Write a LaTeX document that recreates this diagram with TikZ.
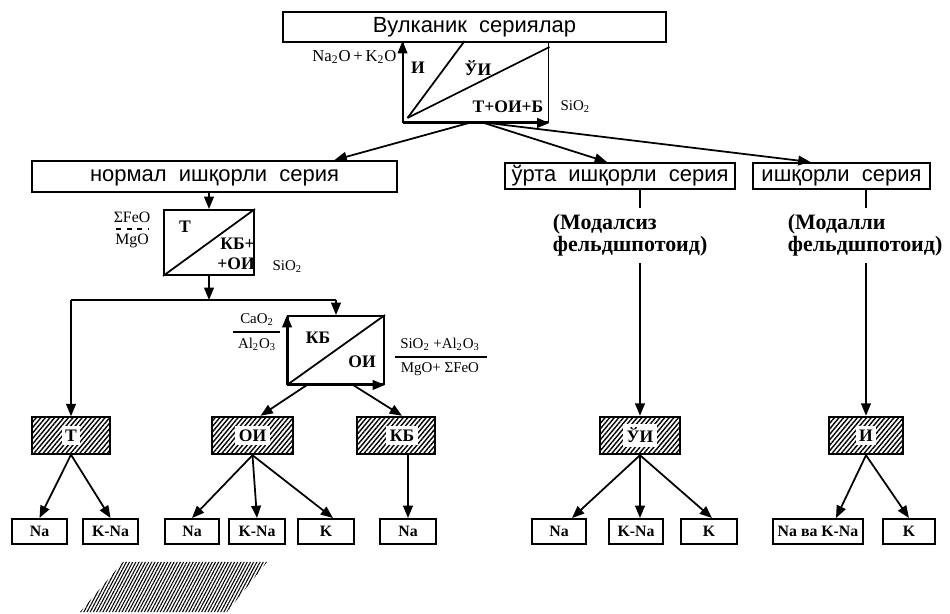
\documentclass[tikz,border=0pt]{standalone}
\usepackage{fontspec}
\setmainfont{Liberation Serif}
\newfontfamily\sansfnt{Liberation Sans}
\usetikzlibrary{arrows.meta,patterns,patterns.meta}

\begin{document}
\begin{tikzpicture}[x=0.02cm, y=-0.02cm, line width=1pt,
  box/.style={draw, line width=1.1pt, inner sep=0pt},
  sbox/.style={box, text height=0.72em, text depth=0.12em, font=\sansfnt\fontsize{12.5}{14}\selectfont},
  leaf/.style={box, minimum height=0.5cm, font=\bfseries\fontsize{9}{10}\selectfont},
  hatch/.style={draw, line width=1.4pt, inner sep=0pt, minimum height=0.74cm,
    pattern={Lines[angle=50,distance=2pt,line width=0.8pt]}},
  hlbl/.style={fill=white, inner sep=2pt, font=\bfseries\fontsize{10}{12}\selectfont},
  lbl/.style={inner sep=1pt, font=\fontsize{8.5}{10}\selectfont},
  blbl/.style={inner sep=1pt, font=\bfseries\fontsize{10}{11}\selectfont},
  arr/.style={-{Triangle[length=7pt,width=5.5pt]}, line width=1pt}]
\useasboundingbox (0,0) rectangle (950,614);

% top of the scheme
\node[sbox, minimum width=7.66cm, minimum height=0.6cm] (vulk) at (474.5,27) {Вулканик\ \ сериялар};
\node[box, minimum width=2.9cm, minimum height=1.6cm] (mix) at (476,82) {};
\draw ([shift={(5,-5)}]mix.south west) -- ([shift={(62,0)}]mix.north west);
\draw ([shift={(5,-5)}]mix.south west) -- ([shift={(0,6)}]mix.north east);
\draw[arr] (mix.south west) -- (mix.north west);
\draw[arr] (mix.south west) -- (mix.south east);
\node[blbl] (mI) at (418,68) {И};
\node[blbl] (mUI) at (478,68) {ЎИ};
\node[blbl] (mT) at (508,107) {Т+ОИ+Б};
\node[lbl, anchor=west] (mSi) at (558,107) {SiO\textsubscript{2}};
\node[lbl, anchor=east, font=\fontsize{9.5}{11}\selectfont] (mNa) at (399,57) {Na\textsubscript{2}O\,+\,K\textsubscript{2}O};

% series
\node[sbox, minimum width=7.3cm, minimum height=0.62cm] (norm) at (214.5,176.5) {нормал\ \ ишқорли\ \ серия};
\node[sbox, minimum width=4.6cm, minimum height=0.52cm] (mid) at (620,176) {ўрта\ \ ишқорли\ \ серия};
\node[sbox, minimum width=3.54cm, minimum height=0.52cm] (alk) at (841.5,176) {ишқорли\ \ серия};
\draw[arr] ([shift={(-7,0)}]mix.south) -- ([shift={(120,0)}]norm.north);
\draw[arr] ([shift={(8,0)}]mix.south) -- ([shift={(-13,0)}]mid.north);
\draw[arr] ([shift={(12,0)}]mix.south) -- ([shift={(-31,0)}]alk.north);

% normal alkaline branch
\node[box, minimum width=1.8cm, minimum height=1.3cm] (b2) at (209,242.5) {};
\draw (b2.south west) -- (b2.north east);
\draw[arr] (norm.south -| b2.north) -- (b2.north);
\node[blbl] (b2T) at (185,227) {Т};
\node[blbl, align=right] (b2KB) at (236,254) {КБ+\\+ОИ};
\node[lbl, align=center, font=\fontsize{9}{10}\selectfont] (fe) at (132,230) {ΣFeO\\[2pt]MgO};
\draw[dashed, line width=0.6pt] ([shift={(-16,-1)}]fe.center) -- ([shift={(16,-1)}]fe.center);
\node[lbl, anchor=west] (b2Si) at (270,267) {SiO\textsubscript{2}};

\coordinate (jn) at (209,300);
\coordinate (jl) at (71,300);
\coordinate (jr) at (336,300);
\draw[arr] (b2.south) -- (jn);
\draw (jl) -- (jr);

\node[box, minimum width=1.92cm, minimum height=1.36cm] (b3) at (336,350) {};
\draw (b3.south west) -- (b3.north east);
\draw[arr] (jr) -- (b3.north);
\draw[arr] (b3.south west) -- (b3.north west);
\draw[arr] (b3.south west) -- (b3.south east);
\node[blbl] (b3KB) at (318,338) {КБ};
\node[blbl] (b3OI) at (362,362) {ОИ};
\node[lbl, align=center] (cao) at (257,332) {CaO\textsubscript{2}\\[4pt]Al\textsubscript{2}O\textsubscript{3}};
\draw[line width=0.8pt] (233,332) -- (280,332);
\node[lbl, align=center] (sial) at (440,357) {SiO\textsubscript{2} +Al\textsubscript{2}O\textsubscript{3}\\[4pt]MgO+ ΣFeO};
\draw[line width=0.8pt] (395,357) -- (487,357);

% middle and alkaline branches
\node[anchor=north west, align=left, inner sep=0pt, font=\bfseries\fontsize{12.5}{13}\selectfont] (modA) at (552,213) {(Модалсиз\\фельдшпотоид)};
\node[anchor=north west, align=left, inner sep=0pt, font=\bfseries\fontsize{12.5}{13}\selectfont] (modB) at (787,213) {(Модалли\\фельдшпотоид)};

% hatched boxes
\node[hatch, minimum width=1.56cm, label={[hlbl]center:Т}] (hT) at (71,435.5) {};
\node[hatch, minimum width=1.62cm, label={[hlbl]center:ОИ}] (hOI) at (252.5,435.5) {};
\node[hatch, minimum width=1.56cm, label={[hlbl, xshift=0.12cm]center:КБ}] (hKB) at (396,435.5) {};
\node[hatch, minimum width=1.6cm, label={[hlbl]center:ЎИ}] (hUI) at (640,435.5) {};
\node[hatch, minimum width=1.48cm, label={[hlbl]center:И}] (hI) at (866,435.5) {};

\draw[arr] (jl) -- (hT.north);
\draw[arr] ([shift={(-29,0)}]b3.south) -- ([shift={(8,0)}]hOI.north);
\draw[arr] ([shift={(17,0)}]b3.south) -- ([shift={(6,0)}]hKB.north);
\draw (hUI.north |- mid.south) -- ([yshift=3pt]hUI.north |- modA.north);
\draw[arr] ([yshift=-3pt]hUI.north |- modA.south) -- (hUI.north);
\draw (hI.north |- alk.south) -- ([yshift=3pt]hI.north |- modB.north);
\draw[arr] ([yshift=-3pt]hI.north |- modB.south) -- (hI.north);

% leaves
\foreach \n/\x/\w/\t in {l1/39.5/1.1/Na, l2/110.5/1.1/K-Na, l3/192/1.08/Na,
  l4/257/1.12/K-Na, l5/326/1.12/K, l6/408/1.12/Na, l7/559/1.08/Na,
  l8/636/1.08/K-Na, l9/709/1.12/K, l10/818/1.8/Na ва K-Na, l11/909/1.04/K}
  \node[leaf, minimum width=\w cm] (\n) at (\x,531.5) {\t};

\draw[arr] (hT.south) -- (l1.north);
\draw[arr] (hT.south) -- (l2.north);
\draw[arr] (hOI.south) -- (l3.north);
\draw[arr] (hOI.south) -- (l4.north);
\draw[arr] (hOI.south) -- ([shift={(7,0)}]l5.north);
\draw[arr] (l6.north |- hKB.south) -- (l6.north);
\draw[arr] (hUI.south) -- ([shift={(13,0)}]l7.north);
\draw[arr] (hUI.south) -- (l8.north -| hUI.south);
\draw[arr] (hUI.south) -- ([shift={(3,0)}]l9.north);
\draw[arr] (hI.south) -- ([shift={(18,0)}]l10.north);
\draw[arr] (hI.south) -- (l11.north);

% loose hatch sample
\fill[pattern={Lines[angle=62,distance=1.6pt,line width=0.6pt]}] (80,612) -- (123,562) -- (267,562) -- (227,612) -- cycle;
\end{tikzpicture}
\end{document}
